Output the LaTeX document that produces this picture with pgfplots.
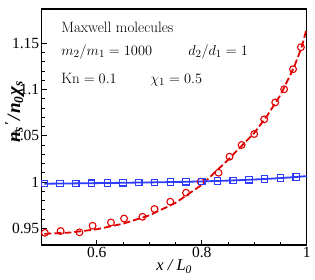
\documentclass[border=0pt]{standalone}
\usepackage{pgfplots}
\pgfplotsset{compat=1.18}
\usepackage{fontspec}
\newfontfamily\tnr{Liberation Serif}
\definecolor{myred}{RGB}{225,0,0}
\definecolor{myblue}{RGB}{45,60,255}
\begin{document}
\begin{tikzpicture}
\useasboundingbox (-41.7pt,-35pt) rectangle (273.3pt,245pt);
\begin{axis}[
  scale only axis, width=265pt, height=236pt,
  at={(0,0)}, anchor=south west,
  xmin=0.495, xmax=1.0, ymin=0.932, ymax=1.187,
  xtick={0.6,0.8,1}, ytick={0.95,1,1.05,1.1,1.15},
  minor x tick num=3, minor y tick num=4,
  tick align=inside, tickpos=left,
  major tick length=5pt, minor tick length=3pt,
  axis line style={line width=1.2pt},
  every tick/.style={black, line width=0.8pt},
  /pgf/number format/assume math mode=true,
  tick label style={font=\tnr\fontsize{15.5}{16}\selectfont},
  xticklabel style={yshift=1pt},
  yticklabel style={xshift=1pt},
  xlabel={\textit{x / L\textsubscript{0}}},
  ylabel={\textbf{\textit{n\textsubscript{s}\kern1pt\textsuperscript{\char"2032}\kern1pt/\kern1pt n\textsubscript{0}\kern0.5ptχ\textsubscript{s}}}},
  xlabel style={font=\tnr\fontsize{16.5}{17}\selectfont, at={(axis description cs:0.5,0)}, anchor=north, yshift=-11pt},
  ylabel style={font=\tnr\fontsize{19}{19}\selectfont, at={(axis description cs:0,0.5636)}, anchor=south, yshift=14pt},
  clip=false,
]
\addplot[myred, line width=1.8pt, dash pattern=on 7pt off 3pt] coordinates {
(0.50,0.9440) (0.55,0.9455) (0.60,0.9490) (0.65,0.9550) (0.70,0.9640)
(0.75,0.9775) (0.80,0.9970) (0.85,1.0240) (0.90,1.0530) (0.925,1.0720)
(0.95,1.0940) (0.975,1.1230) (0.99,1.1450) (1.00,1.1660)};
\addplot[only marks, mark=o, mark size=3.4pt, myred, mark options={line width=1.1pt}] coordinates {
(0.501,0.9452) (0.531,0.9471) (0.567,0.9457) (0.592,0.9528) (0.627,0.9563)
(0.652,0.9606) (0.687,0.9625) (0.710,0.9709) (0.740,0.9788) (0.770,0.9885)
(0.798,1.0004) (0.832,1.0101) (0.853,1.0274) (0.876,1.0401) (0.900,1.0519)
(0.919,1.0678) (0.940,1.0860) (0.957,1.1003) (0.974,1.1219) (0.989,1.1457)};
\addplot[myblue, line width=1.8pt, mark=square, mark size=3.2pt,
  mark options={solid, fill=white, line width=1.1pt},
  mark indices={1,...,17}] coordinates {
(0.50,0.9982) (0.53,0.9984) (0.56,0.9986) (0.59,0.9988) (0.62,0.9990)
(0.65,0.9992) (0.68,0.9995) (0.71,0.9997) (0.74,1.0000) (0.77,1.0003)
(0.80,1.0007) (0.83,1.0012) (0.86,1.0018) (0.89,1.0025) (0.92,1.0033)
(0.95,1.0043) (0.98,1.0055) (1.00,1.0064)};
\node[anchor=base west, inner sep=0pt, font=\fontsize{15}{18}\selectfont] at (axis cs:0.532,1.1617) {Maxwell molecules};
\node[anchor=base west, inner sep=0pt, font=\fontsize{15}{18}\selectfont] at (axis cs:0.532,1.1368) {$m_2/m_1=1000$};
\node[anchor=base west, inner sep=0pt, font=\fontsize{15}{18}\selectfont] at (axis cs:0.774,1.1368) {$d_2/d_1=1$};
\node[anchor=base west, inner sep=0pt, font=\fontsize{15}{18}\selectfont] at (axis cs:0.532,1.1065) {$\mathrm{Kn}=0.1$};
\node[anchor=base west, inner sep=0pt, font=\fontsize{15}{18}\selectfont] at (axis cs:0.7015,1.1065) {$\chi_1=0.5$};
\end{axis}
\end{tikzpicture}
\end{document}
